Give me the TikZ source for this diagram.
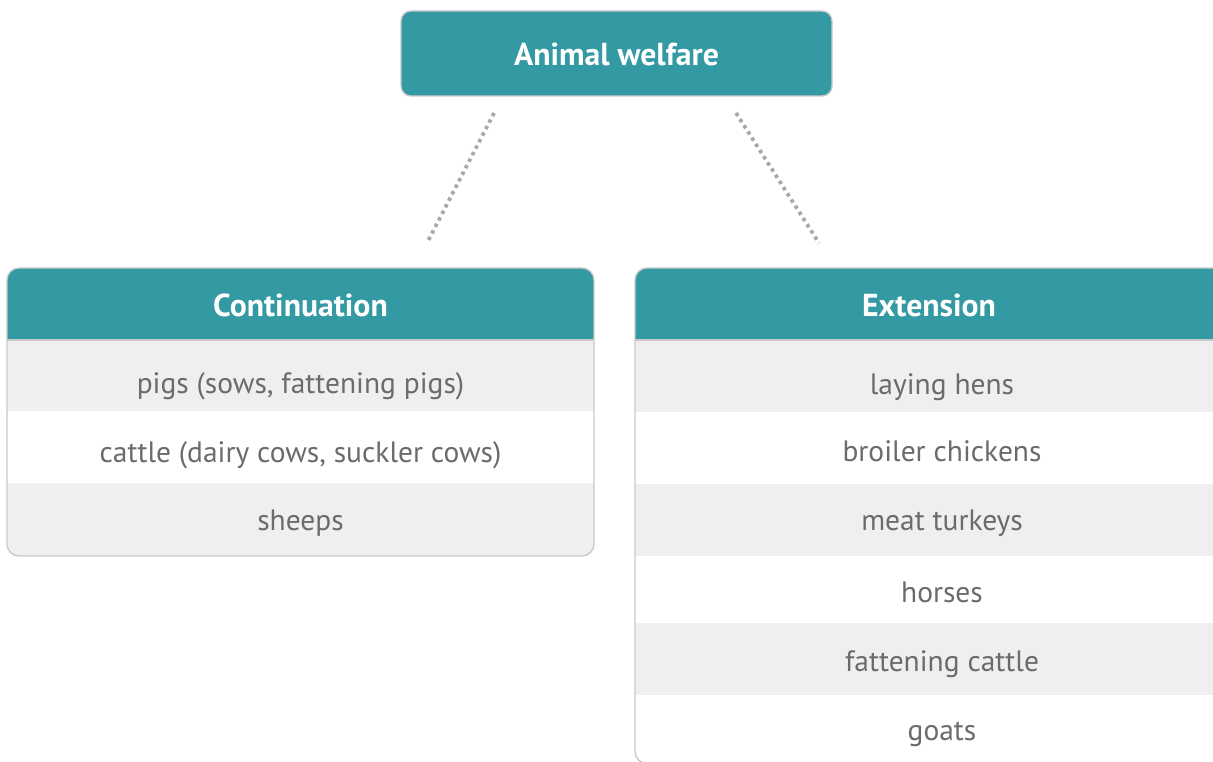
\documentclass[tikz,border=0pt]{standalone}
\usepackage{fontspec}
\setmainfont{PT Sans}
\definecolor{tealfill}{HTML}{3399A3}
\definecolor{rowgray}{HTML}{EFEFEF}
\definecolor{itemtext}{HTML}{6B6B6B}
\definecolor{framegray}{HTML}{C9C9C9}
\definecolor{linkgray}{HTML}{A8A8A8}
\tikzset{
  titletext/.style={anchor=base, text=white, font=\bfseries\fontsize{23.8}{28}\selectfont, inner sep=0pt},
  itemlabel/.style={anchor=base, text=itemtext, font=\fontsize{22.1}{26}\selectfont, inner sep=0pt},
  frame/.style={draw=framegray, line width=1pt, rounded corners=9pt},
  link/.style={draw=linkgray, line width=2.8pt, dash pattern=on 2.6pt off 2.9pt},
}
\begin{document}
\begin{tikzpicture}[x=0.75pt,y=-0.75pt]
\useasboundingbox (0,0) rectangle (1213,762);
\clip (0,0) rectangle (1213,762);

% top box
\fill[tealfill, rounded corners=7.5pt] (401,11) rectangle (832,96);
\draw[frame, rounded corners=7.5pt] (401,11) rectangle (832,96);
\node[titletext] (aw) at (616.5,66) {Animal welfare};

% connectors
\coordinate (l1) at (494,113);
\coordinate (l2) at (427,243);
\coordinate (r1) at (736,113);
\coordinate (r2) at (819,243);
\draw[link] (l1) -- (l2);
\draw[link] (r1) -- (r2);

% left panel
\begin{scope}
  \clip[rounded corners=9pt] (7,268) rectangle (594,556);
  \fill[tealfill] (7,268) rectangle (594,340);
  \fill[rowgray] (7,340) rectangle (594,411);
  \fill[white] (7,411) rectangle (594,483);
  \fill[rowgray] (7,483) rectangle (594,556);
\end{scope}
\draw[frame] (7,268) rectangle (594,556);
\draw[framegray, line width=0.8pt] (7,340) -- (594,340);
\node[titletext] (cont) at (300.5,317) {Continuation};
\node[itemlabel] (c1) at (300.5,393.5) {pigs (sows, fattening pigs)};
\node[itemlabel] (c2) at (300.5,462.5) {cattle (dairy cows, suckler cows)};
\node[itemlabel] (c3) at (300.5,530.5) {sheeps};

% right panel
\begin{scope}
  \clip[rounded corners=9pt] (635,268) rectangle (1250,820);
  \fill[tealfill] (635,268) rectangle (1250,340);
  \fill[rowgray] (635,340) rectangle (1250,412);
  \fill[white] (635,412) rectangle (1250,484);
  \fill[rowgray] (635,484) rectangle (1250,556);
  \fill[white] (635,556) rectangle (1250,623);
  \fill[rowgray] (635,623) rectangle (1250,695);
  \fill[white] (635,695) rectangle (1250,820);
\end{scope}
\draw[frame] (635,268) rectangle (1250,763.5);
\draw[framegray, line width=0.8pt] (635,340) -- (1250,340);
\node[titletext] (ext) at (929,317) {Extension};
\node[itemlabel] (e1) at (942,394.5) {laying hens};
\node[itemlabel] (e2) at (942,461.5) {broiler chickens};
\node[itemlabel] (e3) at (942,530.5) {meat turkeys};
\node[itemlabel] (e4) at (942,602) {horses};
\node[itemlabel] (e5) at (942,671.5) {fattening cattle};
\node[itemlabel] (e6) at (942,740) {goats};
\end{tikzpicture}
\end{document}
